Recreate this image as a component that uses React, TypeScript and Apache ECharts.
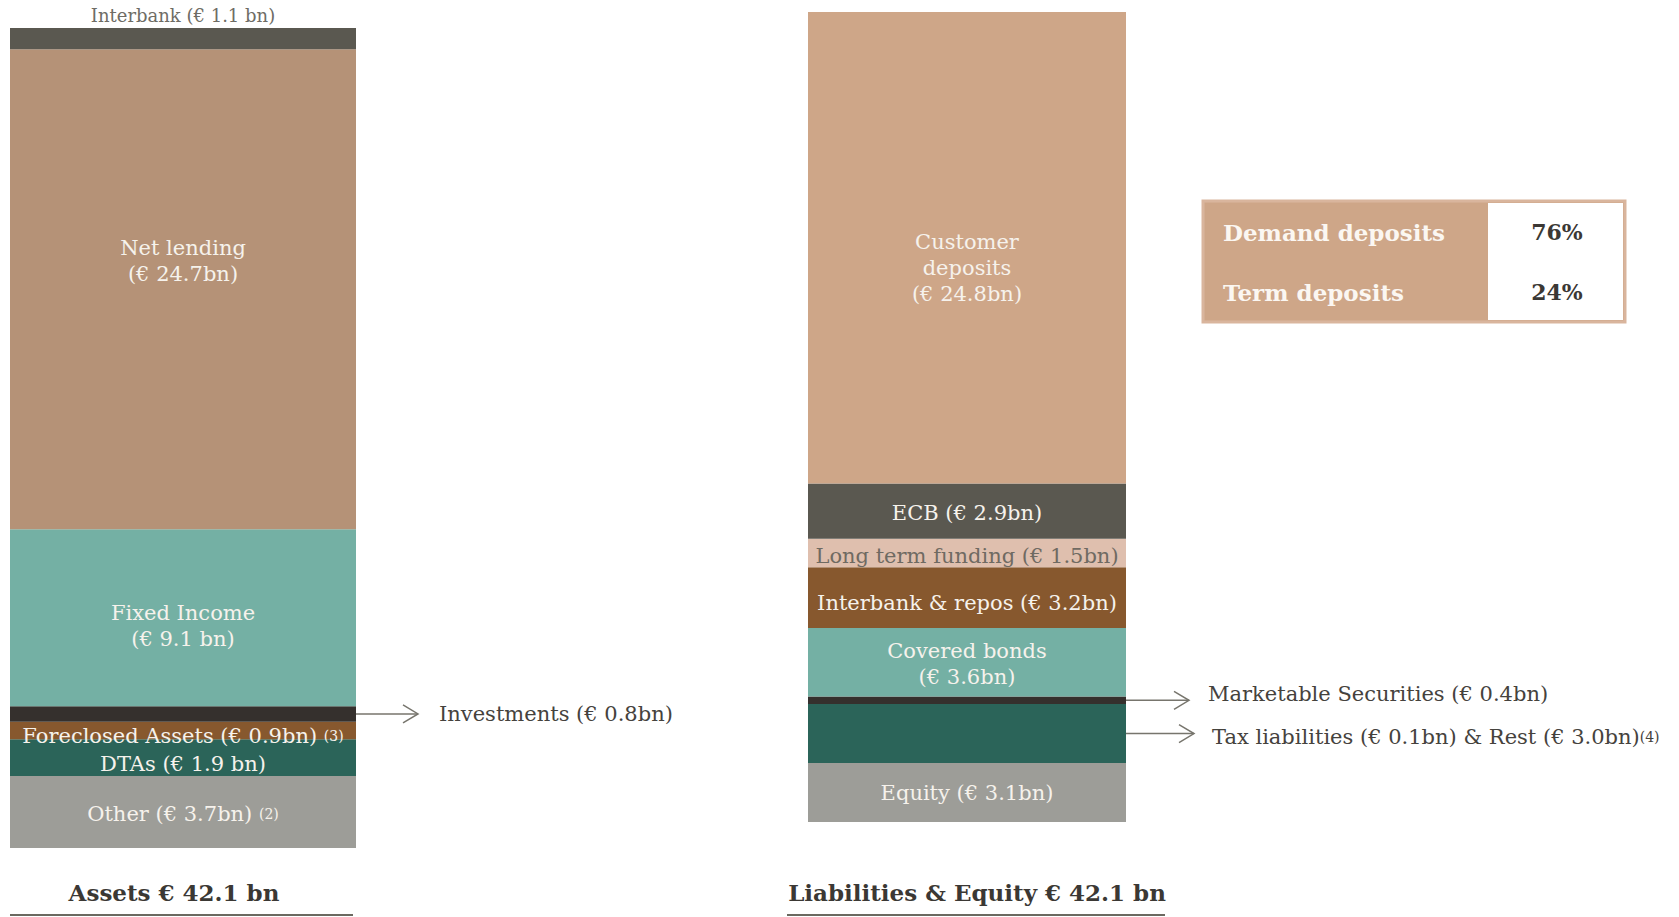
import React, { useEffect, useRef } from 'react';
import * as echarts from 'echarts';

// ---- data (top of bar to bottom) ----
const assetNames = ['Interbank', 'Net lending', 'Fixed Income', 'Investments', 'Foreclosed Assets', 'DTAs', 'Other'];
const assetValues = [1.1, 24.7, 9.1, 0.8, 0.9, 1.9, 3.7];
const assetLabels = [
  'Interbank (€ 1.1 bn)',
  'Net lending\n(€ 24.7bn)',
  'Fixed Income\n(€ 9.1 bn)',
  '',
  '{m|Foreclosed Assets (€ 0.9bn)} {s|(3)}',
  'DTAs (€ 1.9 bn)',
  '{m|Other (€ 3.7bn)} {s|(2)}',
];

const liabNames = ['Customer deposits', 'ECB', 'Long term funding', 'Interbank & repos', 'Covered bonds', 'Marketable Securities', 'Tax liabilities & Rest', 'Equity'];
// Tax liabilities (0.1) & Rest (3.0) drawn as one band of 3.1
const liabValues = [24.8, 2.9, 1.5, 3.2, 3.6, 0.4, 3.1, 3.1];
const liabLabels = [
  'Customer\ndeposits\n(€ 24.8bn)',
  'ECB (€ 2.9bn)',
  'Long term funding (€ 1.5bn)',
  'Interbank & repos (€ 3.2bn)',
  'Covered bonds\n(€ 3.6bn)',
  '',
  '',
  'Equity (€ 3.1bn)',
];

const investmentsText = 'Investments (€ 0.8bn)';
const marketableText = 'Marketable Securities (€ 0.4bn)';
const taxText = '{m|Tax liabilities (€ 0.1bn) & Rest (€ 3.0bn)}{s|(4)}';

const depositTypes = ['Demand deposits', 'Term deposits'];
const depositShares = [76, 24];

const titles = ['Assets € 42.1 bn', 'Liabilities & Equity € 42.1 bn'];

// ---- styles ----
const FONT = "'DejaVu Serif', serif";
const LABEL_SIZE = 21;
const assetColors = ['#5a5850', '#b59277', '#74b0a4', '#35302d', '#87582e', '#2b6459', '#9d9d98'];
const liabColors = ['#cea688', '#5a5850', '#dfbfae', '#87582e', '#74b0a4', '#35302d', '#2b6459', '#9d9d98'];
const assetLabelOffsets = [[0, 0], [0, -28], [0, 8], [0, 0], [0, 6], [0, 6], [0, 2]];
const liabLabelOffsets = [[0, 20], [0, 2], [0, 3], [0, 5], [0, 2], [0, 0], [0, 0], [0, 0]];
const WHITE = '#f6f2ec';
const DARK = '#3b3834';

const L_GRID = { left: 10, top: 28, width: 346, height: 820 };
const R_GRID = { left: 808, top: 12, width: 318, height: 810 };

const sum = (a: number[]) => a.reduce((s, v) => s + v, 0);
const midOf = (vals: number[], i: number) => sum(vals.slice(i + 1)) + vals[i] / 2;

function buildSeries(names: string[], values: number[], labels: string[], colors: string[], offsets: number[][], idx: number) {
  const out: any[] = [];
  for (let i = values.length - 1; i >= 0; i--) {
    const isTopOut = idx === 0 && i === 0;
    const isGrayText = idx === 1 && i === 2;
    out.push({
      name: names[i],
      type: 'bar',
      stack: 'stack' + idx,
      xAxisIndex: idx,
      yAxisIndex: idx,
      barWidth: '100%',
      silent: true,
      data: [values[i]],
      itemStyle: { color: colors[i] },
      label: {
        show: labels[i] !== '',
        position: isTopOut ? 'top' : 'inside',
        distance: 2,
        offset: offsets[i],
        formatter: labels[i],
        color: isTopOut ? '#6e6c65' : isGrayText ? '#6f6a62' : WHITE,
        fontFamily: FONT,
        fontSize: isTopOut ? 18 : LABEL_SIZE,
        lineHeight: isTopOut ? 22 : 26,
        rich: {
          m: { fontFamily: FONT, fontSize: LABEL_SIZE, color: WHITE },
          s: { fontFamily: FONT, fontSize: 14, color: WHITE },
        },
      },
    });
  }
  return out;
}

export default function App() {
  const ref = useRef<HTMLDivElement>(null);
  useEffect(() => {
    document.body.style.margin = '0';
    const chart = echarts.init(ref.current!, null, { renderer: 'svg' });
    const option: any = {
      animation: false,
      grid: [
        { ...L_GRID, containLabel: false },
        { ...R_GRID, containLabel: false },
      ],
      xAxis: [
        { type: 'category', data: ['Assets'], gridIndex: 0, show: false },
        { type: 'category', data: ['Liabilities'], gridIndex: 1, show: false },
      ],
      yAxis: [
        { type: 'value', gridIndex: 0, min: 0, max: sum(assetValues), show: false },
        { type: 'value', gridIndex: 1, min: 0, max: sum(liabValues), show: false },
      ],
      series: [
        ...buildSeries(assetNames, assetValues, assetLabels, assetColors, assetLabelOffsets, 0),
        ...buildSeries(liabNames, liabValues, liabLabels, liabColors, liabLabelOffsets, 1),
      ],
    };
    chart.setOption(option);

    const yInv = chart.convertToPixel({ yAxisIndex: 0 }, midOf(assetValues, 3)) as number;
    const yMS = chart.convertToPixel({ yAxisIndex: 1 }, midOf(liabValues, 5)) as number;
    const yTax = chart.convertToPixel({ yAxisIndex: 1 }, midOf(liabValues, 6)) as number;

    const arrow = (x1: number, x2: number, y: number) => [
      { type: 'line', shape: { x1, y1: y, x2, y2: y }, style: { stroke: '#77756d', lineWidth: 1.5 }, silent: true },
      { type: 'polyline', shape: { points: [[x2 - 15, y - 9], [x2, y], [x2 - 15, y + 9]] }, style: { stroke: '#77756d', lineWidth: 1.5, fill: 'none' }, silent: true },
    ];
    const lRight = L_GRID.left + L_GRID.width;
    const rRight = R_GRID.left + R_GRID.width;
    const textStyle = (extra: any) => ({ fontFamily: FONT, fontSize: LABEL_SIZE, fill: '#45423d', textVerticalAlign: 'middle', ...extra });

    const tX = 1203, tY = 201, tW = 422, tH = 121, split = 1488;
    const graphic: any[] = [
      ...arrow(lRight, 418, yInv),
      { type: 'text', x: 439, y: yInv, style: textStyle({ text: investmentsText }) },
      ...arrow(rRight, 1189, yMS),
      { type: 'text', x: 1208, y: yMS - 6, style: textStyle({ text: marketableText }) },
      ...arrow(rRight, 1194, yTax),
      {
        type: 'text', x: 1212, y: yTax + 3,
        style: textStyle({
          text: taxText,
          rich: {
            m: { fontFamily: FONT, fontSize: LABEL_SIZE, fill: '#45423d' },
            s: { fontFamily: FONT, fontSize: 14, fill: '#45423d' },
          },
        }),
      },
      // deposits table
      { type: 'rect', shape: { x: tX, y: tY, width: tW, height: tH }, style: { fill: '#cea688', stroke: '#d9b59d', lineWidth: 3 } },
      { type: 'rect', shape: { x: split, y: tY + 2, width: tX + tW - split - 2, height: tH - 4 }, style: { fill: '#ffffff' } },
      ...depositTypes.map((t, i) => ({
        type: 'text', x: 1223, y: 232 + i * 60,
        style: { text: t, fontFamily: FONT, fontWeight: 'bold', fontSize: 23, fill: '#fbf7f2', textVerticalAlign: 'middle' },
      })),
      ...depositShares.map((v, i) => ({
        type: 'text', x: 1557, y: 232 + i * 60,
        style: { text: v + '%', fontFamily: FONT, fontWeight: 'bold', fontSize: 22, fill: DARK, textAlign: 'center', textVerticalAlign: 'middle' },
      })),
      // titles
      { type: 'text', x: 174, y: 892, style: { text: titles[0], fontFamily: FONT, fontWeight: 'bold', fontSize: 23, fill: DARK, textAlign: 'center', textVerticalAlign: 'middle' } },
      { type: 'line', shape: { x1: 10, y1: 915, x2: 353, y2: 915 }, style: { stroke: '#6b6960', lineWidth: 2 } },
      { type: 'text', x: 977, y: 892, style: { text: titles[1], fontFamily: FONT, fontWeight: 'bold', fontSize: 23, fill: DARK, textAlign: 'center', textVerticalAlign: 'middle' } },
      { type: 'line', shape: { x1: 787, y1: 915, x2: 1165, y2: 915 }, style: { stroke: '#6b6960', lineWidth: 2 } },
    ];
    chart.setOption({ graphic });
    return () => chart.dispose();
  }, []);
  return <div ref={ref} style={{ width: 1679, height: 917, background: '#ffffff' }} />;
}
